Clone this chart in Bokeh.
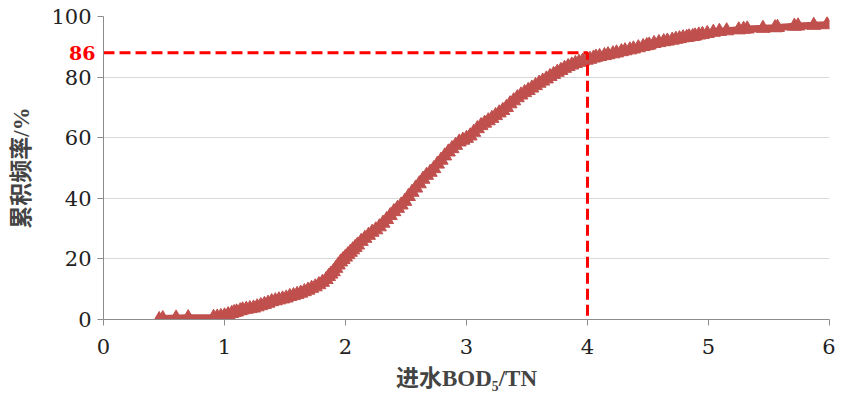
from bokeh.plotting import figure
from bokeh.models import Range1d, FixedTicker, ColumnDataSource, LinearAxis
from bokeh.embed import file_html
from bokeh.resources import INLINE

# cumulative frequency curve
ratio = [0.46, 0.49, 0.60, 0.70, 0.91, 0.94, 0.97, 1.00, 1.03, 1.06, 1.08, 1.10, 1.13, 1.15,
         1.18, 1.21, 1.24, 1.27, 1.30, 1.33, 1.36, 1.39, 1.42, 1.45, 1.48, 1.51, 1.54, 1.57,
         1.60, 1.63, 1.66, 1.69, 1.72, 1.75, 1.78, 1.81, 1.84, 1.86, 1.88, 1.90, 1.92, 1.94,
         1.96, 1.98, 2.00, 2.02, 2.04, 2.06, 2.08, 2.10, 2.13, 2.16, 2.19, 2.22, 2.25, 2.28,
         2.31, 2.34, 2.37, 2.40, 2.43, 2.46, 2.49, 2.52, 2.55, 2.58, 2.61, 2.64, 2.67, 2.70,
         2.73, 2.76, 2.79, 2.82, 2.85, 2.88, 2.91, 2.94, 2.97, 3.00, 3.03, 3.06, 3.09, 3.12,
         3.15, 3.18, 3.21, 3.24, 3.27, 3.30, 3.33, 3.36, 3.39, 3.42, 3.45, 3.48, 3.51, 3.54,
         3.57, 3.60, 3.63, 3.66, 3.69, 3.72, 3.75, 3.78, 3.81, 3.84, 3.87, 3.90, 3.93, 3.96,
         3.99, 4.02, 4.05, 4.07, 4.10, 4.14, 4.17, 4.21, 4.24, 4.28, 4.31, 4.35, 4.38, 4.42,
         4.46, 4.49, 4.51, 4.55, 4.59, 4.63, 4.66, 4.70, 4.73, 4.76, 4.79, 4.82, 4.84, 4.87,
         4.89, 4.92, 4.95, 4.99, 5.04, 5.09, 5.15, 5.25, 5.29, 5.32, 5.45, 5.55, 5.57, 5.71,
         5.74, 5.87, 5.98]
cum_freq = [0.0, 0.3, 0.5, 0.6, 0.7, 0.8, 1.0, 1.2, 1.6, 2.0, 2.3, 2.5, 2.9, 3.2,
            3.4, 3.6, 3.8, 4.2, 4.6, 5.0, 5.4, 5.9, 6.2, 6.5, 6.8, 7.1, 7.6, 7.9,
            8.3, 8.7, 9.2, 9.7, 10.3, 10.8, 11.5, 12.3, 13.2, 14.2, 15.0, 15.8, 16.9, 18.0,
            19.0, 19.8, 20.6, 21.4, 22.2, 23.0, 23.8, 24.6, 25.8, 26.8, 27.8, 28.8, 29.6, 30.6,
            31.8, 33.0, 34.3, 35.6, 36.7, 37.8, 39.0, 40.6, 42.0, 43.4, 44.8, 46.3, 47.6, 48.6,
            49.8, 51.3, 52.6, 54.0, 55.3, 56.4, 57.5, 58.6, 59.2, 59.8, 60.6, 61.8, 63.0, 64.0,
            64.8, 65.6, 66.4, 67.3, 68.2, 69.0, 70.0, 71.2, 72.2, 73.2, 74.1, 74.9, 75.6, 76.4,
            77.2, 78.0, 78.7, 79.4, 80.2, 80.9, 81.6, 82.2, 82.9, 83.5, 84.0, 84.5, 84.9, 85.3,
            85.6, 85.9, 86.3, 86.6, 86.8, 87.1, 87.4, 87.7, 88.0, 88.4, 88.7, 89.0, 89.3, 89.7,
            90.1, 90.4, 90.6, 91.1, 91.4, 91.7, 91.9, 92.2, 92.5, 92.7, 93.0, 93.1, 93.3, 93.4,
            93.6, 93.9, 94.1, 94.4, 94.8, 95.1, 95.3, 95.6, 95.8, 95.9, 96.1, 96.3, 96.4, 96.8,
            96.9, 97.1, 97.3]

ref_x = [0, 4, 4]
ref_y = [88, 88, 0]
ref_label = "86"

x_ticks = [0, 1, 2, 3, 4, 5, 6]
y_ticks = [0, 20, 40, 60, 80, 100]

curve_color = "#C0504D"
tick_font = "DejaVu Serif"

p = figure(width=835, height=393, output_backend="svg", toolbar_location=None,
           x_range=Range1d(0, 6), y_range=Range1d(0, 100),
           min_border_left=103, min_border_right=6, min_border_top=16, min_border_bottom=70)
p.outline_line_color = None
p.background_fill_color = "white"
p.border_fill_color = "white"

src = ColumnDataSource(dict(x=ratio, y=cum_freq))
p.line("x", "y", source=src, line_color=curve_color, line_width=7)
p.scatter("x", "y", source=src, marker="triangle", size=14,
          fill_color=curve_color, line_color=curve_color)

p.line(ref_x, ref_y, line_color="#FF0000", line_width=3, line_dash="11 5")

p.xgrid.grid_line_color = None
p.ygrid.grid_line_color = "#D9D9D9"
p.ygrid.grid_line_width = 1

for ax in (p.xaxis[0], p.yaxis[0]):
    ax.axis_line_color = "#8C8C8C"
    ax.major_tick_line_color = "#8C8C8C"
    ax.minor_tick_line_color = None
    ax.major_tick_in = 0
    ax.major_tick_out = 6
    ax.major_label_text_font = tick_font
    ax.major_label_text_font_size = "21px"
    ax.major_label_text_color = "#222222"

p.xaxis[0].ticker = FixedTicker(ticks=x_ticks)
p.yaxis[0].ticker = FixedTicker(ticks=y_ticks)
p.xaxis[0].major_label_standoff = 13
p.yaxis[0].major_label_standoff = 6

p.xaxis[0].axis_label = "进水BOD₅/TN"
p.xaxis[0].axis_label_text_font = "'Liberation Serif', 'Noto Sans CJK SC'"
p.xaxis[0].axis_label_text_font_style = "bold"
p.xaxis[0].axis_label_text_font_size = "23px"
p.xaxis[0].axis_label_standoff = 9

p.yaxis[0].axis_label = "累积频率/%"
p.yaxis[0].axis_label_text_font = "'Liberation Serif', 'Noto Sans CJK SC'"
p.yaxis[0].axis_label_text_font_style = "bold"
p.yaxis[0].axis_label_text_font_size = "23px"
p.yaxis[0].axis_label_standoff = 14

# red "86" marker label, carried by an extra (outer) left axis pulled inward
mark_axis = LinearAxis(ticker=FixedTicker(ticks=[ref_y[0]]),
                       major_label_overrides={ref_y[0]: ref_label})
mark_axis.axis_line_color = None
mark_axis.major_tick_line_color = None
mark_axis.minor_tick_line_color = None
mark_axis.major_tick_in = 0
mark_axis.major_tick_out = 0
mark_axis.major_label_standoff = -89
mark_axis.major_label_text_color = "#FF0000"
mark_axis.major_label_text_font = "DejaVu Serif"
mark_axis.major_label_text_font_style = "bold"
mark_axis.major_label_text_font_size = "19px"
p.add_layout(mark_axis, "left")

open("out.html", "w").write(file_html(p, INLINE))
